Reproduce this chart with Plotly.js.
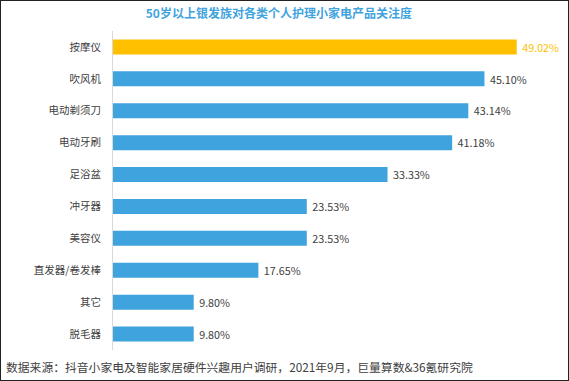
<!DOCTYPE html>
<html><head><meta charset="utf-8">
<script src="https://cdn.plot.ly/plotly-3.0.1.min.js"></script>
<style>
html,body{margin:0;padding:0;background:#fff;}
#wrap{width:569px;height:381px;box-sizing:border-box;border:1px solid #222;position:relative;overflow:hidden;}
#chart{position:absolute;left:-1px;top:-1px;width:569px;height:381px;}
</style></head>
<body><div id="wrap"><div id="chart"></div></div>
<script>
const categories = ["按摩仪","吹风机","电动剃须刀","电动牙刷","足浴盆","冲牙器","美容仪","直发器/卷发棒","其它","脱毛器"];
const values = [49.02,45.10,43.14,41.18,33.33,23.53,23.53,17.65,9.80,9.80];
const labels = values.map(v => " " + v.toFixed(2) + "%");
const highlightIndex = 0;

const font = "'Noto Sans CJK SC','Microsoft YaHei',sans-serif";
const colors = values.map((v,i) => i === highlightIndex ? "#FFC000" : "#3FA3DE");
const textColors = values.map((v,i) => i === highlightIndex ? "#FFC000" : "#404040");

const trace = {
  type: "bar", orientation: "h",
  y: categories, x: values,
  marker: {color: colors},
  text: labels, textposition: "outside", cliponaxis: false,
  textfont: {family: font, size: 11.5, color: textColors},
  hoverinfo: "none", width: 0.47
};

const layout = {
  width: 569, height: 381,
  margin: {l: 113, r: 3, t: 31, b: 31},
  paper_bgcolor: "#fff", plot_bgcolor: "#fff",
  showlegend: false,
  title: {text: "<b>50岁以上银发族对各类个人护理小家电产品关注度</b>", font: {family: font, size: 12, color: "#3FA3DE"}, x: 0.49, xanchor: "center", y: 0.963, yanchor: "middle"},
  xaxis: {range: [0, 55], visible: false, fixedrange: true},
  yaxis: {autorange: "reversed", showline: true, linecolor: "#D9D9D9", linewidth: 1, showgrid: false, zeroline: false,
          ticks: "outside", ticklen: 9, tickcolor: "rgba(0,0,0,0)", tickfont: {family: font, size: 10.5, color: "#404040"}, fixedrange: true},
  annotations: [{
    text: "数据来源：抖音小家电及智能家居硬件兴趣用户调研，2021年9月，巨量算数&36氪研究院",
    xref: "paper", yref: "paper", x: -113/453 + 4/453, y: -16/319, xanchor: "left", yanchor: "middle",
    showarrow: false, font: {family: font, size: 11.8, color: "#404040"}
  }],
  bargap: 0.53
};

Plotly.newPlot("chart", [trace], layout, {displayModeBar: false, staticPlot: true});
</script></body></html>
